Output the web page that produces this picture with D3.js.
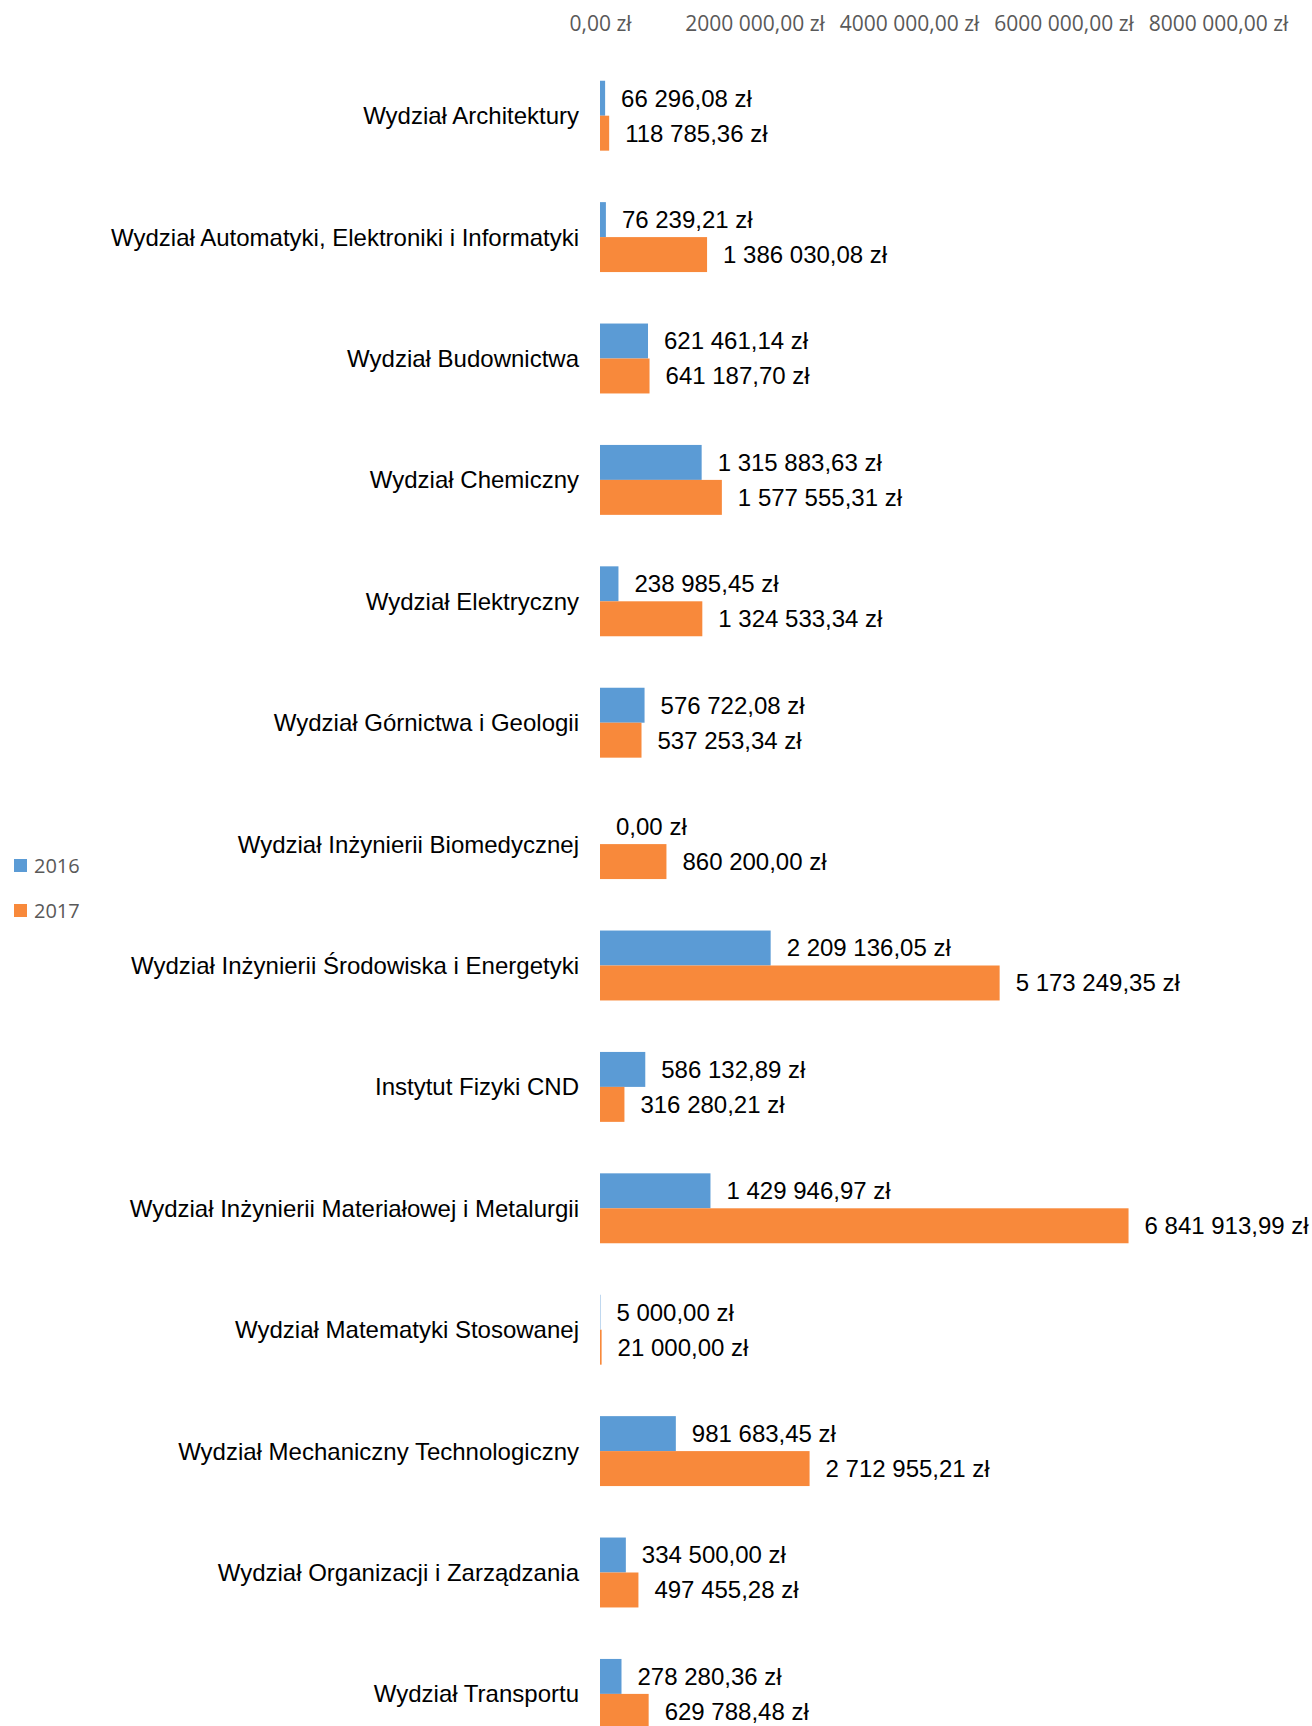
<!DOCTYPE html>
<html>
<head>
<meta charset="utf-8">
<script src="https://cdn.jsdelivr.net/npm/d3@7"></script>
<style>
  html, body { margin: 0; padding: 0; background: #fff; }
  svg { display: block; }
</style>
</head>
<body>
<div id="chart"></div>
<script>
(function () {

	"use strict";

	var categories = [
		'Wydział Architektury',
		'Wydział Automatyki, Elektroniki i Informatyki',
		'Wydział Budownictwa',
		'Wydział Chemiczny',
		'Wydział Elektryczny',
		'Wydział Górnictwa i Geologii',
		'Wydział Inżynierii Biomedycznej',
		'Wydział Inżynierii Środowiska i Energetyki',
		'Instytut Fizyki CND',
		'Wydział Inżynierii Materiałowej i Metalurgii',
		'Wydział Matematyki Stosowanej',
		'Wydział Mechaniczny Technologiczny',
		'Wydział Organizacji i Zarządzania',
		'Wydział Transportu'
	];

	var values2016 = [66296.08, 76239.21, 621461.14, 1315883.63, 238985.45, 576722.08, 0,
		2209136.05, 586132.89, 1429946.97, 5000, 981683.45, 334500, 278280.36];

	var values2017 = [118785.36, 1386030.08, 641187.70, 1577555.31, 1324533.34, 537253.34, 860200,
		5173249.35, 316280.21, 6841913.99, 21000, 2712955.21, 497455.28, 629788.48];

	var seriesNames = ['2016', '2017'];
	var seriesColors = ['#5B9BD5', '#F8893B'];

	var tickValues = [0, 2000000, 4000000, 6000000, 8000000];
	var tickLabels = ['0,00 zł', '2000 000,00 zł', '4000 000,00 zł', '6000 000,00 zł', '8000 000,00 zł'];

	var width = 1312, height = 1726;

	// polish money format: 1 234 567,89 zł
	function money(v) {
		var parts = v.toFixed(2).split('.');
		var intPart = parts[0].replace(/\B(?=(\d{3})+(?!\d))/g, ' ');
		return intPart + ',' + parts[1] + ' zł';
	}

	var svg = d3.select('#chart').append('svg')
		.attr('width', width)
		.attr('height', height);

	var x = d3.scaleLinear().domain([0, 8000000]).range([600, 1218]);

	var y = d3.scaleBand()
		.domain(categories)
		.range([55, 55 + 121.4 * categories.length])
		.paddingInner(0.424)
		.paddingOuter(0.212);

	var sub = d3.scaleBand().domain(seriesNames).range([0, y.bandwidth()]);

	// top axis
	var axis = d3.axisTop(x)
		.tickValues(tickValues)
		.tickSize(0)
		.tickFormat(function (d, i) { return tickLabels[i]; });

	var gAxis = svg.append('g')
		.attr('transform', 'translate(0,34)')
		.call(axis);
	gAxis.select('.domain').remove();
	gAxis.selectAll('text')
		.attr('fill', '#595959')
		.style('font-family', '"Open Sans", sans-serif')
		.style('font-size', '21px');

	// category labels
	svg.append('g').selectAll('text')
		.data(categories)
		.enter().append('text')
		.attr('x', 579)
		.attr('y', function (d) { return y(d) + y.bandwidth() / 2; })
		.attr('dy', '0.35em')
		.attr('text-anchor', 'end')
		.attr('fill', '#000')
		.style('font-family', '"Liberation Sans", Arial, sans-serif')
		.style('font-size', '24px')
		.text(function (d) { return d; });

	var series = [values2016, values2017];

	series.forEach(function (vals, si) {
		var g = svg.append('g');
		g.selectAll('rect')
			.data(vals)
			.enter().append('rect')
			.attr('x', x(0))
			.attr('y', function (d, i) { return y(categories[i]) + sub(seriesNames[si]); })
			.attr('width', function (d) { return Math.max(0, x(d) - x(0)); })
			.attr('height', sub.bandwidth())
			.attr('fill', seriesColors[si]);

		g.selectAll('text')
			.data(vals)
			.enter().append('text')
			.attr('x', function (d) { return x(d) + 16; })
			.attr('y', function (d, i) { return y(categories[i]) + sub(seriesNames[si]) + sub.bandwidth() / 2; })
			.attr('dy', '0.35em')
			.attr('fill', '#000')
			.style('font-family', '"Liberation Sans", Arial, sans-serif')
			.style('font-size', '24px')
			.text(function (d) { return money(d); });
	});

	// legend
	var legend = svg.append('g').selectAll('g')
		.data(seriesNames)
		.enter().append('g')
		.attr('transform', function (d, i) { return 'translate(14,' + (866 + i * 45) + ')'; });

	legend.append('rect')
		.attr('x', 0)
		.attr('y', -7)
		.attr('width', 13)
		.attr('height', 13)
		.attr('fill', function (d, i) { return seriesColors[i]; });

	legend.append('text')
		.attr('x', 20)
		.attr('y', 0)
		.attr('dy', '0.35em')
		.attr('fill', '#595959')
		.style('font-family', '"Open Sans", sans-serif')
		.style('font-size', '20px')
		.text(function (d) { return d; });

}).call(this);
</script>
</body>
</html>
